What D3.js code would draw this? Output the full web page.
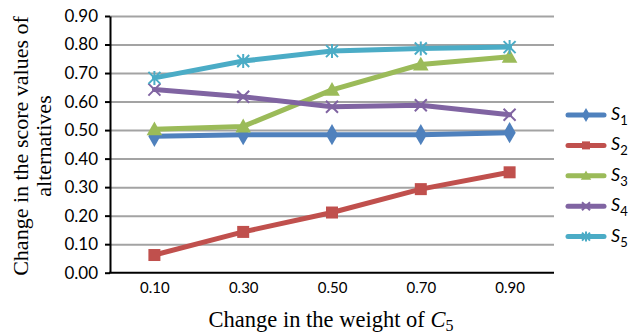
<!DOCTYPE html>
<html>
<head>
<meta charset="utf-8">
<script src="https://cdn.jsdelivr.net/npm/d3@7"></script>
<style>
  body { margin: 0; background: #fff; }
  svg { display: block; }
</style>
</head>
<body>
<div class="graphContainer"></div>
<script>
// Chart data
const weights = ["0.10", "0.30", "0.50", "0.70", "0.90"];
const yTicks = [0, 0.1, 0.2, 0.3, 0.4, 0.5, 0.6, 0.7, 0.8, 0.9];
const seriesNames = ["1", "2", "3", "4", "5"];
const s1 = [0.478, 0.484, 0.484, 0.484, 0.491];
const s2 = [0.062, 0.143, 0.211, 0.293, 0.352];
const s3 = [0.503, 0.513, 0.641, 0.730, 0.757];
const s4 = [0.642, 0.617, 0.582, 0.587, 0.554];
const s5 = [0.683, 0.742, 0.777, 0.786, 0.791];
const colors = ["#4f81bd", "#c0504d", "#9bbb59", "#8064a2", "#4bacc6"];
const markers = ["diamond", "square", "triangle", "x", "asterisk"];

const allSeries = [s1, s2, s3, s4, s5];

const width = 630, height = 334;
const plot = { left: 110, right: 554, top: 16, bottom: 272.7 };

const svg = d3.select(".graphContainer")
    .append("svg")
    .attr("width", width)
    .attr("height", height);

// Scales
const xScale = d3.scalePoint()
    .domain(weights)
    .range([plot.left, plot.right])
    .padding(0.5);

const yScale = d3.scaleLinear()
    .domain([0, 0.9])
    .range([plot.bottom, plot.top]);

// Gridlines
svg.append("g")
    .attr("transform", "translate(" + plot.left + ",0)")
    .call(d3.axisLeft(yScale)
        .tickValues(yTicks.slice(1))
        .tickSize(-(plot.right - plot.left))
        .tickFormat("")
    )
    .call(g => g.select(".domain").remove())
    .call(g => g.selectAll("line")
        .attr("stroke", "#a3a3a3")
        .attr("stroke-width", 2));

// Y axis
const yAxis = svg.append("g")
    .attr("transform", "translate(" + plot.left + ",0)")
    .call(d3.axisLeft(yScale)
        .tickValues(yTicks)
        .tickSize(5)
        .tickSizeOuter(0)
        .tickPadding(7)
        .tickFormat(d3.format(".2f"))
    );
yAxis.select(".domain").attr("stroke", "#000").attr("stroke-width", 2);
yAxis.selectAll("line").attr("stroke", "#000").attr("stroke-width", 2);
yAxis.selectAll("text")
    .style("font-family", "Lato, 'Open Sans', sans-serif")
    .style("font-size", "17px")
    .attr("fill", "#000");

// X axis
const xAxis = svg.append("g")
    .attr("transform", "translate(0," + plot.bottom + ")")
    .call(d3.axisBottom(xScale)
        .tickSize(0)
        .tickPadding(10)
    );
xAxis.select(".domain")
    .attr("d", "M" + (plot.left - 1) + ",0H" + plot.right)
    .attr("stroke", "#000").attr("stroke-width", 2);
xAxis.selectAll("text")
    .style("font-family", "Lato, 'Open Sans', sans-serif")
    .style("font-size", "15px")
    .attr("fill", "#000");

// Marker shapes
function drawMarker(g, type, color, s) {
    if (type == "diamond") {
        g.append("path").attr("d", d3.symbol(d3.symbolDiamond, s * s * 0.9)())
            .attr("fill", color);
    } else if (type == "square") {
        g.append("rect").attr("x", -s / 2).attr("y", -s / 2)
            .attr("width", s).attr("height", s).attr("fill", color);
    } else if (type == "triangle") {
        g.append("path").attr("d", "M0," + (-s * 0.65) + "L" + (s * 0.65) + "," + (s * 0.5) + "L" + (-s * 0.65) + "," + (s * 0.5) + "Z")
            .attr("fill", color);
    } else if (type == "x") {
        const h = s / 2;
        g.append("path").attr("d", "M" + (-h) + "," + (-h) + "L" + h + "," + h + "M" + (-h) + "," + h + "L" + h + "," + (-h))
            .attr("stroke", color).attr("stroke-width", 2);
    } else if (type == "asterisk") {
        const h = s / 2;
        g.append("path").attr("d", "M" + (-h) + "," + (-h) + "L" + h + "," + h + "M" + (-h) + "," + h + "L" + h + "," + (-h) + "M0," + (-h - 1) + "V" + (h + 1))
            .attr("stroke", color).attr("stroke-width", 2);
    }
}

// Lines
const line = d3.line()
    .x((d, i) => xScale(weights[i]))
    .y(d => yScale(d));

allSeries.forEach((values, k) => {
    svg.append("path")
        .datum(values)
        .attr("fill", "none")
        .attr("stroke", colors[k])
        .attr("stroke-width", 5)
        .attr("stroke-linejoin", "round")
        .attr("stroke-linecap", "round")
        .attr("d", line);

    values.forEach((v, i) => {
        const g = svg.append("g")
            .attr("transform", "translate(" + xScale(weights[i]) + "," + yScale(v) + ")");
        drawMarker(g, markers[k], colors[k], 12);
    });
});

// Legend
const legend = svg.append("g")
    .attr("class", "legend")
    .attr("transform", "translate(567,115)");

seriesNames.forEach((name, k) => {
    const row = legend.append("g").attr("transform", "translate(0," + (k * 30.4) + ")");
    row.append("line")
        .attr("x1", 1).attr("x2", 37)
        .attr("stroke", colors[k])
        .attr("stroke-width", 5)
        .attr("stroke-linecap", "round");
    const m = row.append("g").attr("transform", "translate(19,0)");
    drawMarker(m, markers[k], colors[k], 8);
    const t = row.append("text")
        .attr("x", 44)
        .attr("y", 5)
        .style("font-family", "Lato, 'Open Sans', sans-serif")
        .style("font-size", "18px")
        .attr("fill", "#000");
    t.append("tspan").style("font-style", "italic").text("S");
    t.append("tspan").attr("dy", 5).style("font-size", "13px").text(name);
});

// Axis titles
const xTitle = svg.append("text")
    .attr("x", 331)
    .attr("y", 327)
    .attr("text-anchor", "middle")
    .style("font-family", "'Liberation Serif', 'Times New Roman', serif")
    .style("font-size", "22.5px")
    .attr("fill", "#000");
xTitle.append("tspan").text("Change in the weight of ");
xTitle.append("tspan").style("font-style", "italic").text("C");
xTitle.append("tspan").attr("dy", 4).style("font-size", "16px").text("5");

const yTitle = svg.append("text")
    .attr("transform", "translate(0,146) rotate(-90)")
    .attr("text-anchor", "middle")
    .style("font-family", "'Liberation Serif', 'Times New Roman', serif")
    .style("font-size", "22px")
    .attr("fill", "#000");
yTitle.append("tspan").attr("x", 0).attr("y", 28).text("Change in the score values of");
yTitle.append("tspan").attr("x", 0).attr("y", 51).text("alternatives");
</script>
</body>
</html>
